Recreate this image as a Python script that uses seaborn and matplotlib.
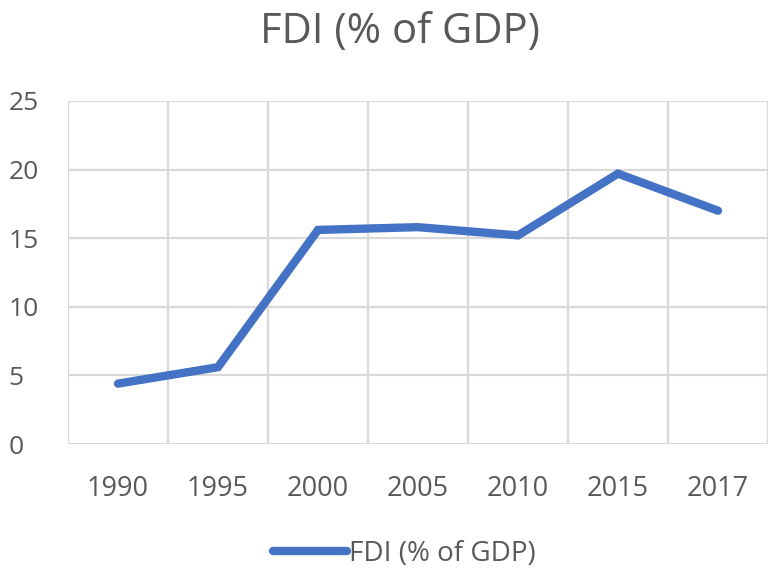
import matplotlib
matplotlib.use("Agg")
import matplotlib.pyplot as plt
import seaborn as sns
import pandas as pd
import numpy as np

years = ["1990", "1995", "2000", "2005", "2010", "2015", "2017"]
fdi = [4.4, 5.6, 15.6, 15.8, 15.2, 19.7, 17.0]
series_name = "FDI (% of GDP)"

df = pd.DataFrame({"year": years, "fdi": fdi})

sns.set_style("white")
plt.rcParams["font.family"] = ["Open Sans", "DejaVu Sans"]
grey = "#595959"
grid_col = "#D9D9D9"

fig = plt.figure(figsize=(7.69, 5.70), dpi=100)
ax = fig.add_axes([0.0884, 0.221, 0.9103, 0.602])

sns.lineplot(data=df, x="year", y="fdi", ax=ax, color="#4472C4", linewidth=6,
             solid_capstyle="round", solid_joinstyle="miter", label=series_name, sort=False)

ax.set_xlim(-0.5, len(years) - 0.5)
ax.set_ylim(0, 25)
ax.set_yticks(np.arange(0, 26, 5))
ax.set_xticks(np.arange(-0.5, len(years), 1.0), minor=True)
ax.grid(False)
ax.grid(True, which="minor", axis="x", color=grid_col, linewidth=1.6)
ax.grid(True, which="major", axis="y", color=grid_col, linewidth=1.6)
ax.set_axisbelow(True)
for s in ax.spines.values():
    s.set_visible(False)
ax.tick_params(which="both", length=0)
ax.tick_params(axis="x", pad=22, labelsize=19.5, labelcolor=grey)
ax.tick_params(axis="y", pad=43, labelsize=19, labelcolor=grey)
for lab in ax.get_yticklabels():
    lab.set_horizontalalignment("left")
ax.set_xlabel("")
ax.set_ylabel("")

fig.text(0.5195, 0.925, series_name, ha="center", va="baseline", fontsize=30, color=grey)

ax.get_legend().remove()
handles, labels = ax.get_legend_handles_labels()
leg = fig.legend(handles, labels, loc="center", bbox_to_anchor=(0.526, 0.028), frameon=False,
                 fontsize=20, handlelength=2.66, handletextpad=0.05)
for t in leg.get_texts():
    t.set_color(grey)

fig.savefig("out.png", dpi=100)
